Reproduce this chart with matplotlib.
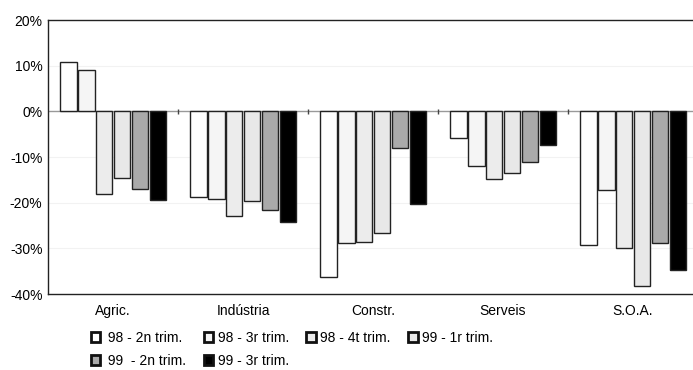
import numpy as np
import matplotlib
matplotlib.use('Agg')
from matplotlib import pyplot as plt
from matplotlib.patches import Patch

plt.rcParams['font.family'] = ['Liberation Sans Narrow', 'Liberation Sans', 'DejaVu Sans']

sectors = ['Agric.', 'Indústria', 'Constr.', 'Serveis', 'S.O.A.']
periods = [' 98 - 2n trim.', '98 - 3r trim.', '98 - 4t trim.', '99 - 1r trim.',
           ' 99  - 2n trim.', '99 - 3r trim.']
t98_2 = [10.7, -18.8, -36.3, -5.9, -29.3]
t98_3 = [9.0, -19.3, -28.9, -12.0, -17.3]
t98_4 = [-18.0, -23.0, -28.7, -14.9, -30.0]
t99_1 = [-14.7, -19.7, -26.7, -13.4, -38.3]
t99_2 = [-17.1, -21.5, -8.1, -11.0, -28.9]
t99_3 = [-19.5, -24.3, -20.4, -7.4, -34.8]
series = [t98_2, t98_3, t98_4, t99_1, t99_2, t99_3]
colors = ['#ffffff', '#f5f5f5', '#ececec', '#e8e8e8', '#aaaaaa', '#000000']

fig = plt.figure(figsize=(6.93, 3.70), dpi=100)
ax = fig.add_axes([48 / 693, 1 - 294 / 370, 650 / 693, 274 / 370])

x = np.arange(len(sectors))
step = 0.137
w = 0.125
for i, vals in enumerate(series):
    ax.bar(x - 0.41 + step * (i + 0.5), vals, w, color=colors[i],
           edgecolor='#222222', linewidth=1.0, zorder=3)

ax.set_xlim(-0.5, len(sectors) - 0.5)
ax.set_ylim(-40, 20)
ax.set_yticks(np.arange(-40, 21, 10))
ax.set_yticklabels([f'{v}%' for v in range(-40, 21, 10)], fontsize=10)
ax.yaxis.set_tick_params(length=0, pad=4)
for v in range(-30, 20, 10):
    if v != 0:
        ax.axhline(v, color='#f2f2f2', linewidth=0.8, zorder=1)
ax.axhline(0, color='#999999', linewidth=1.0, zorder=2)
ax.vlines(x[:-1] + 0.5, -0.6, 0.6, color='#444444', linewidth=1.0, zorder=2)

ax.set_xticks(x)
ax.set_xticklabels(sectors, fontsize=10)
ax.xaxis.set_tick_params(length=0, pad=7)
for s in ax.spines.values():
    s.set_color('#222222')
    s.set_linewidth(1.0)
ax.spines['right'].set_visible(False)

# legend fills column by column: reorder so it reads row by row
order = [0, 4, 1, 5, 2, 3]
handles = [Patch(facecolor=colors[i], edgecolor='#111111', linewidth=2.0) for i in order]
labels = [periods[i] for i in order]
fig.legend(handles, labels, ncol=4, loc='upper left', bbox_to_anchor=(78 / 693, 1 - 318 / 370),
           frameon=False, fontsize=10, handlelength=0.7, handleheight=0.7,
           handletextpad=0.3, columnspacing=1.25, labelspacing=0.65)

fig.savefig('out.png', dpi=100)
